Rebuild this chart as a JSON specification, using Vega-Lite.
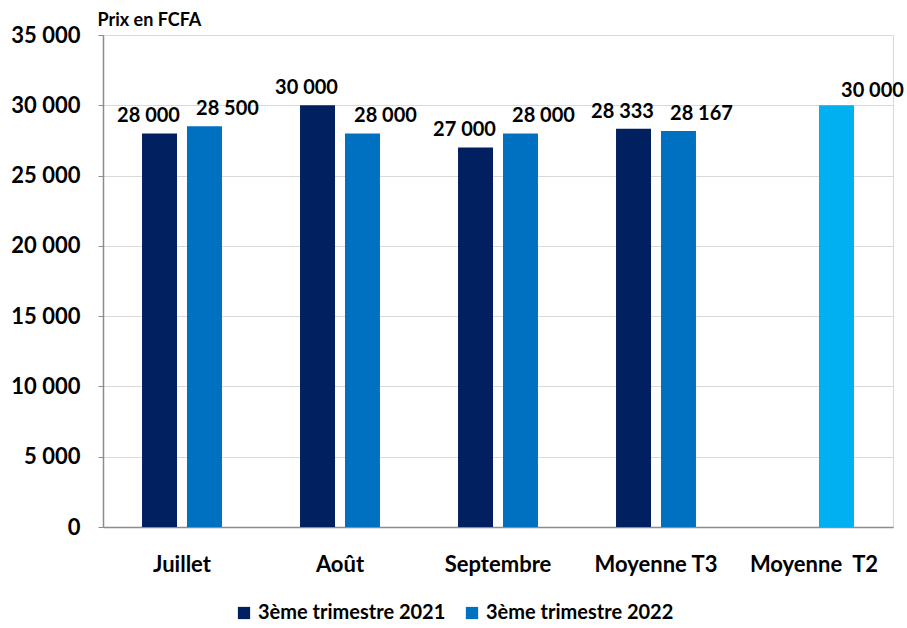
{
  "$schema": "https://vega.github.io/schema/vega-lite/v6.json",
  "autosize": {"type": "none"},
  "padding": {"left": 103, "top": 35, "right": 14, "bottom": 101},
  "width": 790,
  "height": 492,
  "background": "white",
  "config": {
    "locale": {"number": {"decimal": ",", "thousands": " ", "grouping": [3], "currency": ["", ""]}},
    "font": "Lato",
    "view": {"stroke": "#d9d9d9", "strokeWidth": 1}
  },
  "data": {
    "values": [
      {"mois": "Juillet", "annee": "2021", "serie": "3ème trimestre 2021", "prix": 28000},
      {"mois": "Juillet", "annee": "2022", "serie": "3ème trimestre 2022", "prix": 28500},
      {"mois": "Août", "annee": "2021", "serie": "3ème trimestre 2021", "prix": 30000},
      {"mois": "Août", "annee": "2022", "serie": "3ème trimestre 2022", "prix": 28000},
      {"mois": "Septembre", "annee": "2021", "serie": "3ème trimestre 2021", "prix": 27000},
      {"mois": "Septembre", "annee": "2022", "serie": "3ème trimestre 2022", "prix": 28000},
      {"mois": "Moyenne T3", "annee": "2021", "serie": "3ème trimestre 2021", "prix": 28333},
      {"mois": "Moyenne T3", "annee": "2022", "serie": "3ème trimestre 2022", "prix": 28167},
      {"mois": "Moyenne\u00a0 T2", "annee": "2022", "serie": "Moyenne T2", "prix": 30000}
    ]
  },
  "encoding": {
    "x": {
      "field": "mois", "type": "nominal",
      "sort": ["Juillet", "Août", "Septembre", "Moyenne T3", "Moyenne\u00a0 T2"],
      "scale": {"paddingInner": 0.494, "paddingOuter": 0.247},
      "axis": {
        "title": null, "labelAngle": 0, "labelFont": "Lato", "labelFontWeight": "bold",
        "labelFontSize": 22, "labelColor": "#000000", "labelPadding": 27, "ticks": false,
        "domainColor": "#8c8c8c", "domainWidth": 1.5, "grid": false
      }
    },
    "xOffset": {"field": "annee", "type": "nominal", "scale": {"domain": ["2021", "2022"], "paddingInner": 0.222, "paddingOuter": 0}},
    "y": {
      "field": "prix", "type": "quantitative",
      "scale": {"domain": [0, 35000], "nice": false},
      "axis": {
        "values": [0, 5000, 10000, 15000, 20000, 25000, 30000, 35000],
        "format": ",d",
        "title": "Prix en FCFA", "titleAngle": 0, "titleAlign": "left", "titleBaseline": "alphabetic",
        "titleX": -6, "titleY": -10, "titleFont": "Lato", "titleFontSize": 18, "titleFontWeight": "bold", "titleColor": "#000000",
        "labelFont": "Lato", "labelFontWeight": "bold", "labelFontSize": 22, "labelColor": "#000000", "labelPadding": 18,
        "tickSize": 5, "tickColor": "#8c8c8c", "domainColor": "#8c8c8c", "domainWidth": 1.5,
        "grid": true, "gridColor": "#d9d9d9", "gridWidth": 1
      }
    }
  },
  "layer": [
    {
      "mark": {"type": "bar"},
      "encoding": {
        "color": {
          "field": "serie", "type": "nominal",
          "scale": {"domain": ["3ème trimestre 2021", "3ème trimestre 2022", "Moyenne T2"], "range": ["#002060", "#0070C0", "#00B0F0"]},
          "legend": {
            "values": ["3ème trimestre 2021", "3ème trimestre 2022"],
            "title": null, "orient": "none", "direction": "horizontal",
            "legendX": 131, "legendY": 568,
            "symbolType": "square", "symbolSize": 150, "symbolStrokeWidth": 0, "symbolOpacity": 1,
            "labelFont": "Lato", "labelFontSize": 20, "labelFontWeight": "bold", "labelColor": "#000000", "labelLimit": 300,
            "columnPadding": 16, "labelOffset": 4
          }
        }
      }
    },
    {
      "transform": [{"filter": "datum.serie == '3ème trimestre 2021'"}],
      "mark": {"type": "text", "font": "Lato", "fontWeight": "bold", "fontSize": 20, "baseline": "alphabetic", "dy": -11, "dx": -11, "color": "#000000"},
      "encoding": {"text": {"field": "prix", "type": "quantitative", "format": ",d"}}
    },
    {
      "transform": [{"filter": "datum.serie == '3ème trimestre 2022'"}],
      "mark": {"type": "text", "font": "Lato", "fontWeight": "bold", "fontSize": 20, "baseline": "alphabetic", "dy": -11, "dx": 23, "color": "#000000"},
      "encoding": {"text": {"field": "prix", "type": "quantitative", "format": ",d"}}
    },
    {
      "transform": [{"filter": "datum.serie == 'Moyenne T2'"}],
      "mark": {"type": "text", "font": "Lato", "fontWeight": "bold", "fontSize": 20, "baseline": "alphabetic", "dy": -8, "dx": 36, "color": "#000000"},
      "encoding": {"text": {"field": "prix", "type": "quantitative", "format": ",d"}}
    }
  ]
}
